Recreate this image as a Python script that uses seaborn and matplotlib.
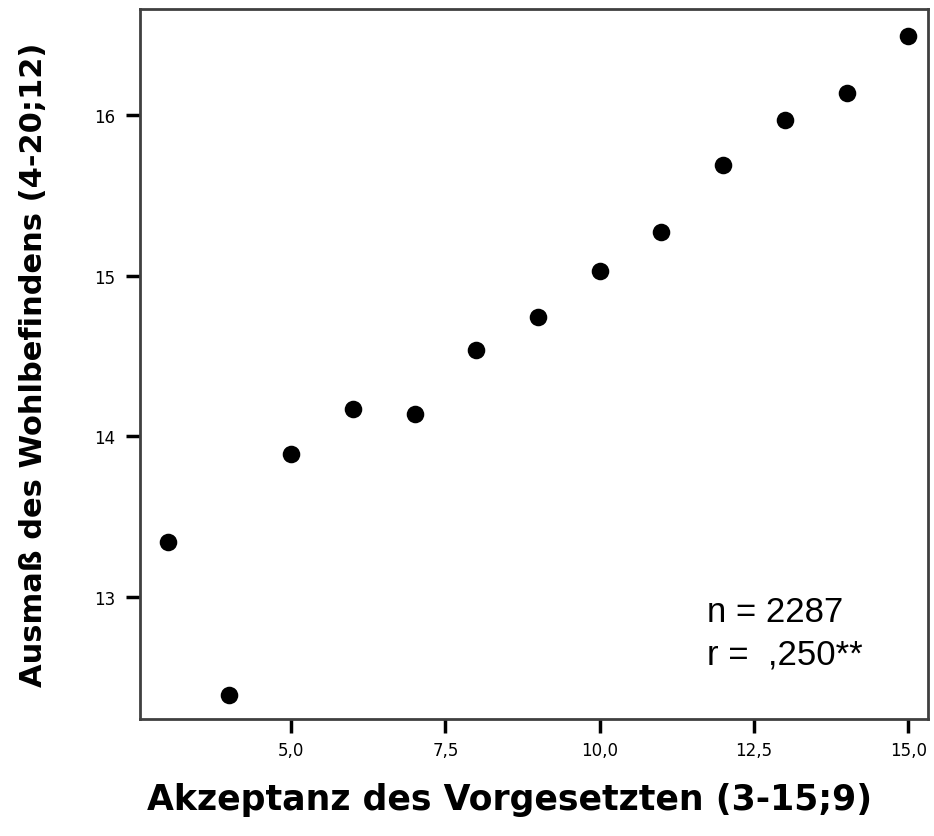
import matplotlib
matplotlib.use("Agg")
import matplotlib.pyplot as plt
import seaborn as sns
import pandas as pd
from matplotlib.ticker import FuncFormatter

akzeptanz = [3, 4, 5, 6, 7, 8, 9, 10, 11, 12, 13, 14, 15]
wohlbefinden = [13.34, 12.39, 13.89, 14.17, 14.14, 14.535, 14.74, 15.03, 15.27, 15.69, 15.97, 16.14, 16.49]
x_ticks = [5.0, 7.5, 10.0, 12.5, 15.0]
y_ticks = [13, 14, 15, 16]
x_label = "Akzeptanz des Vorgesetzten (3-15;9)"
y_label = "Ausmaß des Wohlbefindens (4-20;12)"
annot_lines = ["n = 2287", "r =  ,250**"]

df = pd.DataFrame({"x": akzeptanz, "y": wohlbefinden})

sns.set_theme(style="white")
plt.rcParams["font.family"] = ["DejaVu Sans"]
plt.rcParams.update({
    "xtick.bottom": True, "ytick.left": True,
    "xtick.major.size": 10, "ytick.major.size": 10,
    "xtick.major.width": 2.5, "ytick.major.width": 2.5,
    "xtick.color": "black", "ytick.color": "black",
    "xtick.direction": "out", "ytick.direction": "out",
})

fig = plt.figure(figsize=(9.34, 8.37), dpi=100)
ax = fig.add_axes([140/934, 1 - 720/837, (928-140)/934, (720-10)/837])

sns.scatterplot(data=df, x="x", y="y", ax=ax, color="black", s=160,
                edgecolor="black", linewidth=0)

ax.set_xlim(2.55, 15.32)
ax.set_ylim(12.24, 16.66)
ax.set_xticks(x_ticks)
ax.set_yticks(y_ticks)
ax.xaxis.set_major_formatter(FuncFormatter(lambda v, p: f"{v:.1f}".replace(".", ",")))
ax.yaxis.set_major_formatter(FuncFormatter(lambda v, p: f"{int(v)}"))

for s in ax.spines.values():
    s.set_visible(True)
    s.set_color("#404040")
    s.set_linewidth(2)

ax.tick_params(axis="x", which="major", bottom=True, length=10, width=2.5,
               color="black", pad=6, labelsize=12, labelcolor="black")
ax.tick_params(axis="y", which="major", left=True, length=10, width=2.5,
               color="black", pad=8, labelsize=12, labelcolor="black")

ax.set_xlabel(x_label, fontsize=25, fontweight="bold", color="black")
ax.xaxis.set_label_coords((510 - 140) / (928 - 140), -(800 - 720) / (720 - 10))
ax.xaxis.label.set_va("center")
ax.set_ylabel(y_label, fontsize=22, fontweight="bold", color="black")
ax.yaxis.set_label_coords(-(140 - 34) / (928 - 140), 0.5)
ax.yaxis.label.set_va("center")

fig.text(707/934, 1 - 612/837, annot_lines[0],
         fontsize=25, family="Liberation Sans", va="center", ha="left", color="black")
fig.text(707/934, 1 - 655/837, annot_lines[1],
         fontsize=25, family="Liberation Sans", va="center", ha="left", color="black")

fig.savefig("out.png", dpi=100)
